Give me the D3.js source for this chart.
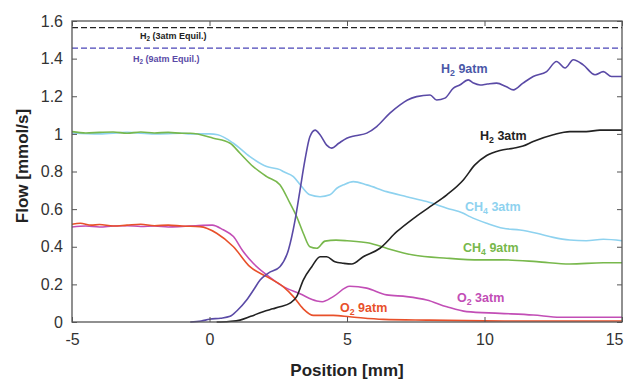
<!DOCTYPE html>
<html><head><meta charset="utf-8">
<script src="https://cdn.jsdelivr.net/npm/d3@7"></script>
<style>
html,body{margin:0;padding:0;background:#fff;}
text{font-family:"Liberation Sans",Arial,sans-serif;}
</style></head>
<body><svg id="c" width="624" height="380"></svg>
<script>
// ---- data ----
const xTicks = [-5, 0, 5, 10, 15];
const xTickLabels = ["-5", "0", "5", "10", "15"];
const yTicks = [0, 0.2, 0.4, 0.6, 0.8, 1, 1.2, 1.4, 1.6];
const yTickLabels = ["0", "0.2", "0.4", "0.6", "0.8", "1", "1.2", "1.4", "1.6"];

const h2_3atm_equil = 1.565;
const h2_9atm_equil = 1.456;

const h2_9atm_x = [-0.7,-0.3,0,0.4,0.75,1.0,1.35,1.6,1.84,2.14,2.56,2.87,3.11,3.29,3.47,3.65,3.84,4.02,4.26,4.44,4.7,4.99,5.3,5.72,6.08,6.56,6.93,7.2,7.53,8.02,8.26,8.56,8.87,9.1,9.41,9.6,9.84,10.1,10.44,10.8,11.05,11.4,11.77,12.26,12.62,12.93,13.23,13.59,14.02,14.32,14.62,15];
const h2_9atm_y = [0,0.005,0.015,0.02,0.03,0.06,0.117,0.17,0.223,0.26,0.294,0.383,0.54,0.70,0.86,0.985,1.02,0.995,0.94,0.924,0.95,0.977,0.99,1.004,1.039,1.11,1.154,1.18,1.198,1.207,1.18,1.19,1.243,1.26,1.287,1.27,1.26,1.265,1.27,1.25,1.234,1.27,1.305,1.331,1.385,1.35,1.394,1.367,1.314,1.331,1.305,1.305];

const h2_3atm_x = [0.26,0.7,1.11,1.5,1.95,2.3,2.56,2.93,3.17,3.41,3.72,4.02,4.26,4.56,4.87,5.17,5.59,6.2,6.81,7.41,8.02,8.63,9.23,9.65,10.08,10.56,11.05,11.4,11.77,12.5,13.1,13.7,14.2,15];
const h2_3atm_y = [0,0.003,0.01,0.03,0.055,0.07,0.081,0.1,0.135,0.223,0.294,0.347,0.347,0.32,0.312,0.308,0.347,0.392,0.48,0.55,0.613,0.676,0.755,0.835,0.885,0.912,0.924,0.935,0.959,0.995,1.012,1.012,1.02,1.02];

const ch4_3atm_x = [-5,-4,-3,-2,-1,-0.7,0,0.3,0.87,1.47,2.08,2.56,2.68,3.05,3.35,3.65,4.02,4.38,4.63,4.87,5.23,5.72,6.44,7.17,7.9,8.63,9.23,9.47,10.08,10.68,11.29,11.9,12.5,13.1,13.7,14.32,15];
const ch4_3atm_y = [1.005,1.0,1.008,1.0,1.003,1.0,1.0,0.995,0.95,0.879,0.826,0.81,0.8,0.773,0.72,0.676,0.666,0.676,0.711,0.729,0.746,0.729,0.693,0.666,0.64,0.605,0.578,0.56,0.525,0.498,0.489,0.472,0.45,0.436,0.432,0.44,0.432];

const ch4_9atm_x = [-5,-4.5,-4,-3.5,-3,-2.5,-2,-1.5,-1,-0.7,0.14,0.75,1.11,1.59,2.08,2.56,2.93,3.17,3.41,3.65,3.9,4.2,4.6,5.0,5.8,6.44,7.41,8.63,9.84,10.68,11.9,13.1,14.32,15];
const ch4_9atm_y = [1.012,1.005,1.008,1.01,1.003,1.01,1.005,1.008,1.003,1.003,0.977,0.95,0.897,0.826,0.773,0.73,0.63,0.56,0.472,0.4,0.392,0.43,0.435,0.432,0.42,0.392,0.356,0.339,0.33,0.33,0.321,0.308,0.315,0.315];

const o2_3atm_x = [-5,-4.5,-4,-3.5,-3,-2.5,-2,-1.5,-1,-0.5,0.1,0.5,0.87,1.2,1.59,2.08,2.68,3.29,3.9,4.1,4.5,5.1,5.72,6.44,7.17,7.9,8.63,9.35,10.56,11.77,12.75,15];
const o2_3atm_y = [0.505,0.51,0.505,0.51,0.512,0.508,0.51,0.505,0.508,0.512,0.515,0.49,0.454,0.38,0.312,0.25,0.188,0.15,0.112,0.108,0.135,0.19,0.18,0.144,0.135,0.117,0.081,0.055,0.046,0.037,0.025,0.025];

const o2_9atm_x = [-5,-4.7,-4.3,-4,-3.5,-3,-2.5,-2,-1.5,-1,-0.35,0.26,0.87,1.47,2.08,2.68,3.05,3.41,3.78,4.5,5.1,6.32,8,10,12,15];
const o2_9atm_y = [0.52,0.525,0.515,0.518,0.51,0.515,0.52,0.512,0.515,0.51,0.507,0.472,0.4,0.294,0.241,0.188,0.135,0.07,0.035,0.035,0.028,0.014,0.01,0.006,0.005,0.005];

// ---- chart ----
const svg = d3.select("#c");
const L = 72, R = 622, T = 21, B = 322;
const x = d3.scaleLinear().domain([-5, 15]).range([L, R]);
const y = d3.scaleLinear().domain([0, 1.6]).range([B, T]);

const frame = "#555";
const tickCol = "#333";

// dashed equilibrium lines
svg.append("line").attr("x1", L).attr("x2", R).attr("y1", y(h2_3atm_equil)).attr("y2", y(h2_3atm_equil))
  .attr("stroke", "#222").attr("stroke-width", 1.4).attr("stroke-dasharray", "6,3");
svg.append("line").attr("x1", L).attr("x2", R).attr("y1", y(h2_9atm_equil)).attr("y2", y(h2_9atm_equil))
  .attr("stroke", "#4b45b8").attr("stroke-width", 1.4).attr("stroke-dasharray", "6,3");

const line = d3.line().x(d => x(d[0])).y(d => y(d[1])).curve(d3.curveMonotoneX);
const series = [
  [ch4_3atm_x, ch4_3atm_y, "#8ed2ef"],
  [ch4_9atm_x, ch4_9atm_y, "#78b84c"],
  [o2_3atm_x, o2_3atm_y, "#c24eb6"],
  [o2_9atm_x, o2_9atm_y, "#e8502a"],
  [h2_3atm_x, h2_3atm_y, "#222222"],
  [h2_9atm_x, h2_9atm_y, "#5a4aa6"]
];
series.forEach(s => {
  svg.append("path").datum(s[0].map((v, i) => [v, s[1][i]]))
    .attr("d", line).attr("fill", "none").attr("stroke", s[2]).attr("stroke-width", 1.6);
});

// frame
svg.append("rect").attr("x", L).attr("y", T).attr("width", R - L).attr("height", B - T)
  .attr("fill", "none").attr("stroke", frame).attr("stroke-width", 1.3);

// axes with inward ticks
const ax = svg.append("g").attr("transform", `translate(0,${B})`)
  .call(d3.axisBottom(x).tickValues(xTicks).tickSize(-5).tickPadding(12).tickFormat((d, i) => xTickLabels[i]));
const axTop = svg.append("g").attr("transform", `translate(0,${T})`)
  .call(d3.axisTop(x).tickValues(xTicks).tickSize(-5).tickFormat(""));
const ay = svg.append("g").attr("transform", `translate(${L},0)`)
  .call(d3.axisLeft(y).tickValues(yTicks).tickSize(-5).tickPadding(9).tickFormat((d, i) => yTickLabels[i]));
const ayR = svg.append("g").attr("transform", `translate(${R},0)`)
  .call(d3.axisRight(y).tickValues(yTicks).tickSize(-5).tickFormat(""));
[ax, axTop, ay, ayR].forEach(g => {
  g.select(".domain").remove();
  g.selectAll(".tick line").attr("stroke", frame).attr("stroke-width", 1);
  g.selectAll(".tick text").attr("fill", tickCol).attr("font-size", 16)
    .attr("font-family", "'Liberation Sans', Arial, sans-serif");
});
// keep the last x tick label inside the picture
ax.selectAll(".tick text").filter(d => d === 15).attr("text-anchor", "end").attr("dx", 1);

// axis titles
svg.append("text").attr("x", 347).attr("y", 376).attr("text-anchor", "middle")
  .attr("font-size", 17).attr("font-weight", "bold").attr("fill", "#222").text("Position [mm]");
svg.append("text").attr("transform", "translate(28,166) rotate(-90)").attr("text-anchor", "middle")
  .attr("font-size", 17).attr("font-weight", "bold").attr("fill", "#222").text("Flow [mmol/s]");

// labels with subscripts
function label(xp, yp, main, sub, rest, color, size) {
  const t = svg.append("text").attr("x", xp).attr("y", yp).attr("font-size", size)
    .attr("font-weight", "bold").attr("fill", color);
  t.append("tspan").text(main);
  t.append("tspan").attr("font-size", size * 0.7).attr("dy", size * 0.25).text(sub);
  t.append("tspan").attr("dy", -size * 0.25).text(rest);
}
label(140, 39, "H", "2", " (3atm Equil.)", "#222", 9);
label(133, 62, "H", "2", " (9atm Equil.)", "#5a4aa6", 9);
label(441, 73, "H", "2", "  9atm", "#4a58a8", 12.5);
label(480, 140, "H", "2", "  3atm", "#222", 12.5);
label(465, 211, "CH", "4", " 3atm", "#8ed2ef", 12.5);
label(463, 252, "CH", "4", "  9atm", "#78b84c", 12.5);
label(457, 302, "O", "2", "  3atm", "#c24eb6", 12.5);
label(340, 312, "O", "2", "  9atm", "#e8502a", 12.5);
</script></body></html>
